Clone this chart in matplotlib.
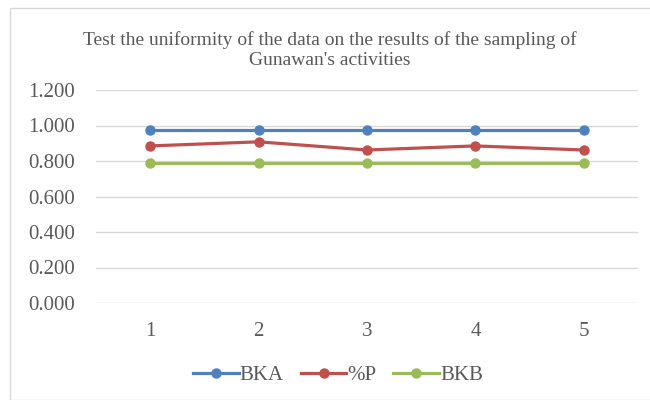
import matplotlib.pyplot as plt
from matplotlib.patches import Rectangle

samples = [1, 2, 3, 4, 5]
bka = [0.976, 0.976, 0.976, 0.976, 0.976]
pct_p = [0.885, 0.908, 0.862, 0.885, 0.862]
bkb = [0.788, 0.788, 0.788, 0.788, 0.788]
yticks = [0.0, 0.2, 0.4, 0.6, 0.8, 1.0, 1.2]

plt.rcParams['font.family'] = ['Liberation Serif', 'DejaVu Serif']

fig = plt.figure(figsize=(6.5, 4), dpi=100)
fig.patches.append(Rectangle((10 / 650, 0.0), 1.0, 1 - 8 / 400, transform=fig.transFigure,
                             fill=False, edgecolor='#D9D9D9', linewidth=1.0))
ax = fig.add_axes([96 / 650, 1 - 303 / 400, 542 / 650, 213 / 400])

x = list(range(len(samples)))
ax.plot(x, bka, color='#4F81BD', lw=2.3, marker='o', ms=6.5, label='BKA')
ax.plot(x, pct_p, color='#C0504D', lw=2.3, marker='o', ms=6.5, label='%P')
ax.plot(x, bkb, color='#9BBB59', lw=2.3, marker='o', ms=6.5, label='BKB')

ax.set_xlim(-0.5, len(samples) - 0.5)
ax.set_ylim(0, 1.2)
ax.set_yticks(yticks)
ax.set_yticklabels(['%.3f' % v for v in yticks])
ax.set_xticks(x)
ax.set_xticklabels([str(s) for s in samples])
ax.yaxis.grid(True, color='#D9D9D9', lw=1.0)
ax.set_axisbelow(True)
for s in ax.spines.values():
    s.set_visible(False)
ax.tick_params(axis='y', length=0, pad=15, labelsize=15, labelcolor='#595959')
ax.tick_params(axis='x', length=0, pad=14, labelsize=15, labelcolor='#595959')

fig.text(0.508, 1 - 50 / 400, "Test the uniformity of the data on the results of the sampling of\nGunawan's activities",
         ha='center', va='center', fontsize=14, color='#595959', linespacing=1.25)

leg = fig.legend(loc='center', bbox_to_anchor=(0.52, 1 - 375 / 400), ncol=3, frameon=False,
                 fontsize=15, handlelength=2.2, handletextpad=0.05, columnspacing=0.8)
for t in leg.get_texts():
    t.set_color('#595959')

fig.savefig('out.png', dpi=100)
